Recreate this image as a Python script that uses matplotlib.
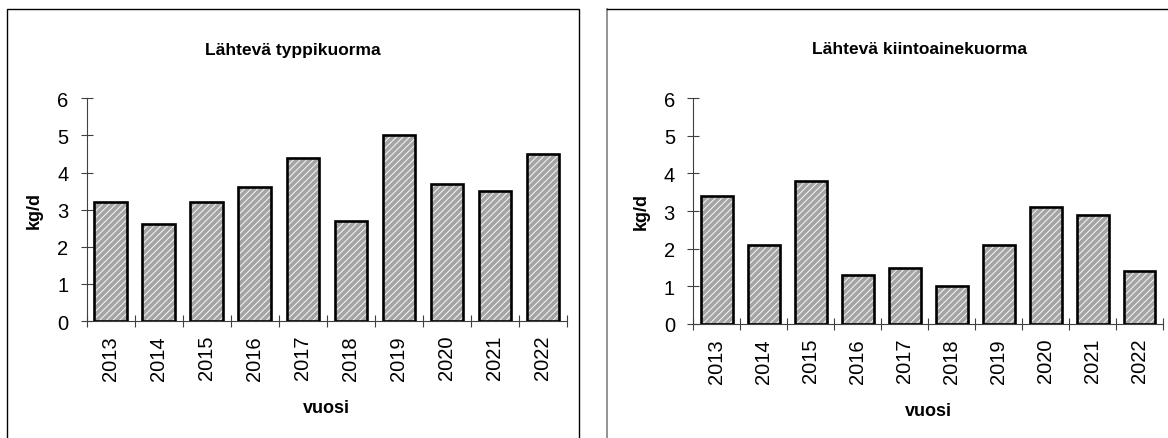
#!/usr/bin/env python3
""" Lähtevä typpi- ja kiintoainekuorma, vuodet 2013-2022.
"""
import matplotlib
matplotlib.use('Agg')
import matplotlib.pyplot as plt
from matplotlib.patches import Rectangle
from matplotlib.lines import Line2D

years = ['2013', '2014', '2015', '2016', '2017', '2018', '2019', '2020', '2021', '2022']
typpi = [3.2, 2.6, 3.2, 3.6, 4.4, 2.7, 5.0, 3.7, 3.5, 4.5]
kiintoaine = [3.4, 2.1, 3.8, 1.3, 1.5, 1.0, 2.1, 3.1, 2.9, 1.4]
y_ticks = [0, 1, 2, 3, 4, 5, 6]

plt.rcParams['font.family'] = ['Liberation Sans', 'DejaVu Sans']
plt.rcParams['hatch.linewidth'] = 0.75

W, H = 1168, 439


def draw_panel(ax, values):
    x = range(len(values))
    # hatched fill first, then the black outline on top
    ax.bar(x, values, width=0.68, facecolor='#a4a4a4', edgecolor='#f4f4f4',
           hatch='/////', linewidth=0, zorder=2)
    ax.bar(x, values, width=0.68, facecolor='none', edgecolor='black',
           linewidth=1.9, zorder=3)
    ax.set_xlim(-0.5, len(values) - 0.5)
    ax.set_ylim(0, 6)
    ax.set_yticks(y_ticks)
    ax.set_xticks(x)
    ax.set_xticklabels(years, rotation=90, fontsize=14.5)
    ax.set_xticks([i - 0.5 for i in range(len(values) + 1)], minor=True)
    ax.tick_params(axis='x', which='major', length=0, pad=10)
    ax.tick_params(axis='x', which='minor', direction='inout', length=8.5,
                   width=0.8, color='#404040')
    ax.tick_params(axis='y', direction='inout', length=8.5, width=0.8,
                   color='#404040', labelsize=14.5, pad=9)
    for side in ['top', 'right']:
        ax.spines[side].set_visible(False)
    for side in ['left', 'bottom']:
        ax.spines[side].set_linewidth(0.8)
        ax.spines[side].set_color('#404040')
    ax.set_ylabel('kg/d', fontsize=13, fontweight='bold', labelpad=10)
    ax.set_xlabel('vuosi', fontsize=13, fontweight='bold', labelpad=14)


fig = plt.figure(figsize=(W / 100, H / 100), dpi=100)

ax1 = fig.add_axes([86.7 / W, 1 - 322 / H, (567 - 86.7) / W, (322 - 99.3) / H])
draw_panel(ax1, typpi)
fig.text(293 / W, 1 - 51 / H, 'Lähtevä typpikuorma', ha='center', va='center',
         fontsize=12.5, fontweight='bold')

ax2 = fig.add_axes([693.3 / W, 1 - 325 / H, (1163 - 693.3) / W, (325 - 99) / H])
draw_panel(ax2, kiintoaine)
fig.text(920 / W, 1 - 49 / H, 'Lähtevä kiintoainekuorma', ha='center', va='center',
         fontsize=12.5, fontweight='bold')

# chart area frames
fig.add_artist(Rectangle((7 / W, -0.1), (579 - 7) / W, 1.1 - 10 / H,
                         transform=fig.transFigure, facecolor='none',
                         edgecolor='black', linewidth=1.0))
fig.add_artist(Line2D([607 / W, 607 / W], [-0.1, 1 - 10 / H],
                      transform=fig.transFigure, color='#808080', linewidth=1.2))
fig.add_artist(Line2D([607 / W, 1.1], [1 - 10 / H, 1 - 10 / H],
                      transform=fig.transFigure, color='black', linewidth=1.0))

plt.savefig('out.png', dpi=100)
